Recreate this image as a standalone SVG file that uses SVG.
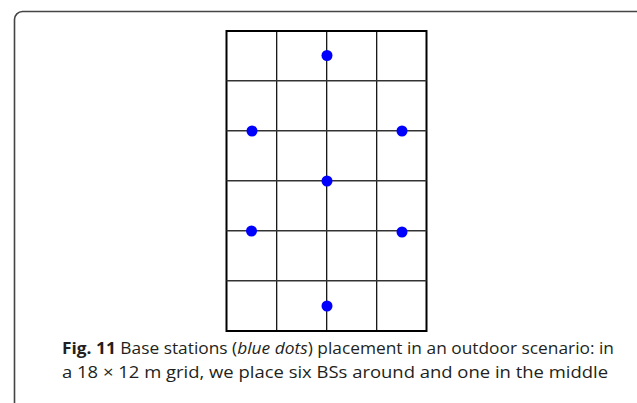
<svg xmlns="http://www.w3.org/2000/svg" width="637" height="403" viewBox="0 0 637 403">
<style>
.frame{fill:#fff;stroke:#444;stroke-width:1.6}
.gridouter{fill:#fff;stroke:#000;stroke-width:2}
.gl{stroke:#000;stroke-width:1.2}
.hl{stroke:#333;stroke-width:1.4}
.bs{fill:#0000ff}
.cap{font-family:"Open Sans","Noto Sans",sans-serif;font-size:16.5px;fill:#231f20}
</style>
<rect class="frame" x="14.5" y="11.5" width="630" height="420" rx="8"/>
<g id="grid">
<rect class="gridouter" x="226.5" y="31" width="200" height="300"/>
<line class="gl" x1="276.7" y1="31" x2="276.7" y2="331"/>
<line class="gl" x1="326.7" y1="31" x2="326.7" y2="331"/>
<line class="gl" x1="376.7" y1="31" x2="376.7" y2="331"/>
<line class="hl" x1="226.5" y1="80.7" x2="426.5" y2="80.7"/>
<line class="hl" x1="226.5" y1="130.7" x2="426.5" y2="130.7"/>
<line class="hl" x1="226.5" y1="180.7" x2="426.5" y2="180.7"/>
<line class="hl" x1="226.5" y1="230.7" x2="426.5" y2="230.7"/>
<line class="hl" x1="226.5" y1="280.7" x2="426.5" y2="280.7"/>
</g>
<g id="stations">
<circle id="bs1" class="bs" cx="327" cy="55.5" r="5.5"/>
<circle id="bs2" class="bs" cx="252" cy="131" r="5.5"/>
<circle id="bs3" class="bs" cx="402" cy="131" r="5.5"/>
<circle id="bs4" class="bs" cx="327" cy="181" r="5.5"/>
<circle id="bs5" class="bs" cx="251.5" cy="231" r="5.5"/>
<circle id="bs6" class="bs" cx="402" cy="232" r="5.5"/>
<circle id="bs7" class="bs" cx="327" cy="306" r="5.5"/>
</g>
<g id="caption">
<text class="cap" x="62" y="354" textLength="552" lengthAdjust="spacingAndGlyphs"><tspan font-weight="bold">Fig. 11</tspan> Base stations (<tspan font-style="italic">blue dots</tspan>) placement in an outdoor scenario: in</text>
<text class="cap" x="62" y="378" textLength="546" lengthAdjust="spacingAndGlyphs">a 18 × 12 m grid, we place six BSs around and one in the middle</text>
</g>
</svg>
